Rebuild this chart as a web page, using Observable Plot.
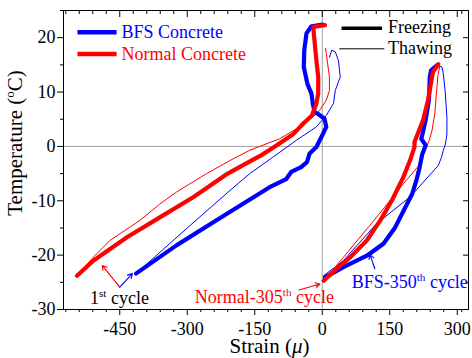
<!DOCTYPE html>
<html><head><meta charset="utf-8">
<script src="https://cdn.jsdelivr.net/npm/d3@7"></script>
<script src="https://cdn.jsdelivr.net/npm/@observablehq/plot@0.6"></script>
<style>
html,body{margin:0;padding:0;background:#fff;}
#chart{width:472px;height:358px;}
#chart svg, #chart svg text { font-family: "Liberation Serif", "Times New Roman", serif !important; }
</style></head><body><div id="chart"></div>
<script>
// ---- data: [strain (µε), temperature (°C)] ----
const bfsFirstFreezing = [[1,22.4],[-24,22.1],[-35,20.8],[-40,17.7],[-41,14.6],[-33,11.5],[-24,9.7],[-21,7.9],[-17,6.3],[-10,6.0],[5,5.1],[9,3.6],[-2,1.7],[-13,-0.1],[-28,-1.3],[-34,-2.9],[-47,-3.8],[-69,-4.7],[-80,-6.0],[-117,-7.5],[-150,-9.2],[-235,-13.6],[-324,-18.2],[-414,-23.4]];
const bfsFirstThawing = [[-414,-23.4],[-300,-15.0],[-205,-8.1],[-161,-5.0],[-110,-2.0],[-58,1.1],[-13,3.6],[9,5.7],[25,7.9],[29,10.3],[40,12.8],[36,15.8],[29,17.4],[21,17.7],[16,16.4]];
const normalFirstFreezing = [[6,22.3],[-20,22.0],[-18,20.1],[-13,15.8],[-9,12.8],[-9,9.7],[-13,7.9],[-23,5.7],[-42,4.2],[-64,2.3],[-101,0.2],[-135,-1.6],[-175,-3.4],[-210,-5.0],[-286,-9.3],[-360,-13.0],[-434,-16.7],[-508,-21.0],[-545,-23.8]];
const normalFirstThawing = [[-545,-23.8],[-509,-20.4],[-472,-17.3],[-405,-13.6],[-361,-10.6],[-324,-8.4],[-257,-5.0],[-205,-2.6],[-161,-0.7],[-95,1.4],[-50,3.6],[-21,5.4],[-6,6.6],[9,8.5],[16,10.3],[16,12.8],[12,15.2],[9,17.1],[7,18.0]];
const bfs350Freezing = [[256,15.0],[242,14.0],[239,12.8],[237,8.5],[230,5.0],[222,2.0],[220,1.4],[230,0.2],[222,-1.5],[216,-4],[210,-6],[200,-8.7],[181,-11.8],[162,-14.9],[136,-17.9],[99,-20.1],[47,-22.2],[6,-24.1]];
const bfs350Thawing = [[3,-23.8],[47,-21.0],[121,-14.2],[195,-9.3],[258,-3.5],[265,-2.0],[269,-0.7],[273,0.2],[275,1.1],[277,2.3],[277,5.4],[273,10.3],[269,13.4],[266,14.6],[258,14.9]];
const normal305Freezing = [[258,15.1],[246,13.7],[235,8.5],[224,4.8],[212,2.3],[205,0.8],[205,-0.1],[195,-2.6],[180,-5.7],[155,-9.9],[129,-13.6],[99,-17.3],[62,-20.4],[32,-22.5],[3,-24.7]];
const normal305Thawing = [[3,-24.7],[47,-20.4],[121,-13.0],[180,-6.9],[218,-3.2],[227,-1.0],[238,1.2],[244,3.0],[250,6.0],[254,10.0],[257,13.0],[261,14.7],[256,15.1]];

const xTicks = [-450,-300,-150,0,150,300];
const yTicks = [-30,-20,-10,0,10,20];
const xMinorTicks = [-570,-540,-510,-480,-420,-390,-360,-330,-270,-240,-210,-180,-120,-90,-60,-30,30,60,90,120,180,210,240,270,310];
const yMinorTicks = [-25,-15,-5,5,15,25];

const BLUE = "#0000ff", RED = "#ff0000";
const FONT = "Liberation Serif";
const fmt = d => String(d);

const thin = 1, thick = 4.2;
const lineOpts = (stroke, w) => ({x: d => d[0], y: d => d[1], stroke, strokeWidth: w, strokeLinejoin: "round", strokeLinecap: "round"});
const txt = (fill) => ({text: d => d, fill, textAnchor: "start", fontSize: 18, fontFamily: FONT});

const chart = Plot.plot({
  width: 472, height: 358,
  marginLeft: 63, marginRight: 4, marginTop: 10, marginBottom: 49,
  style: {fontFamily: FONT, fontSize: "18px", background: "#fff", color: "#000"},
  x: {domain: [-575, 325]},
  y: {domain: [-30, 25]},
  marks: [
    Plot.ruleX([0], {stroke: "#a0a0a0", strokeWidth: 1}),
    Plot.ruleY([0], {stroke: "#a0a0a0", strokeWidth: 1}),
    Plot.line(bfsFirstThawing, lineOpts(BLUE, thin)),
    Plot.line(normalFirstThawing, lineOpts(RED, thin)),
    Plot.line(bfs350Thawing, lineOpts(BLUE, thin)),
    Plot.line(normal305Thawing, lineOpts(RED, thin)),
    Plot.line(bfsFirstFreezing, lineOpts(BLUE, thick)),
    Plot.line(bfs350Freezing, lineOpts(BLUE, thick)),
    Plot.line(normalFirstFreezing, lineOpts(RED, thick)),
    Plot.line(normal305Freezing, lineOpts(RED, thick)),
    // legends
    Plot.link([{x1: -544, x2: -457, y: 21.0}], {x1: "x1", x2: "x2", y1: "y", y2: "y", stroke: BLUE, strokeWidth: 4.5}),
    Plot.link([{x1: -544, x2: -457, y: 17.0}], {x1: "x1", x2: "x2", y1: "y", y2: "y", stroke: RED, strokeWidth: 4.5}),
    Plot.text(["BFS Concrete"], {x: -446, y: 21.0, ...txt(BLUE)}),
    Plot.text(["Normal Concrete"], {x: -446, y: 17.0, ...txt(RED)}),
    Plot.link([{x1: 43, x2: 133, y: 21.75}], {x1: "x1", x2: "x2", y1: "y", y2: "y", stroke: "#000", strokeWidth: 3.5}),
    Plot.link([{x1: 38, x2: 138, y: 17.95}], {x1: "x1", x2: "x2", y1: "y", y2: "y", stroke: "#000", strokeWidth: 1}),
    Plot.text(["Freezing"], {x: 146, y: 22.0, ...txt("#000")}),
    Plot.text(["Thawing"], {x: 146, y: 18.05, ...txt("#000")}),
    // arrows
    Plot.arrow([{x1: -450, y1: -25.9, x2: -489, y2: -21.9}], {x1: "x1", y1: "y1", x2: "x2", y2: "y2", stroke: RED, strokeWidth: 1.1, headLength: 7}),
    Plot.arrow([{x1: -450, y1: -25.9, x2: -422, y2: -23.4}], {x1: "x1", y1: "y1", x2: "x2", y2: "y2", stroke: BLUE, strokeWidth: 1.1, headLength: 7}),
    Plot.arrow([{x1: -52, y1: -26.4, x2: -5, y2: -25.3}], {x1: "x1", y1: "y1", x2: "x2", y2: "y2", stroke: RED, strokeWidth: 1.1, headLength: 7}),
    Plot.arrow([{x1: 117, y1: -22.5, x2: 106, y2: -19.9}], {x1: "x1", y1: "y1", x2: "x2", y2: "y2", stroke: BLUE, strokeWidth: 1.1, headLength: 7}),
    // axes
    Plot.frame({stroke: "#000", strokeWidth: 1}),
    Plot.axisX({ticks: xTicks, anchor: "bottom", tickSize: 6, tickPadding: 7, tickFormat: fmt, fontSize: 18, fontFamily: FONT, label: null}),
    Plot.axisX({ticks: xMinorTicks, anchor: "bottom", tickSize: 3, fill: "none", label: null}),
    Plot.axisX({ticks: xTicks, anchor: "top", tickSize: -6, fill: "none", label: null}),
    Plot.axisX({ticks: xMinorTicks, anchor: "top", tickSize: -3, fill: "none", label: null}),
    Plot.axisY({ticks: yTicks, anchor: "left", tickSize: 6, tickPadding: 2, tickFormat: fmt, fontSize: 18, fontFamily: FONT, label: null}),
    Plot.axisY({ticks: yMinorTicks, anchor: "left", tickSize: 3, fill: "none", label: null}),
    Plot.axisY({ticks: yTicks, anchor: "right", tickSize: -6, fill: "none", label: null}),
    Plot.axisY({ticks: yMinorTicks, anchor: "right", tickSize: -3, fill: "none", label: null})
  ]
});
document.getElementById("chart").appendChild(chart);

// rich texts with superscripts
const svg = d3.select(chart);
const sx = chart.scale("x"), sy = chart.scale("y");
function rich(px, py, parts, {fill = "#000", size = 18, anchor = "start", rotate = 0} = {}) {
  const t = svg.append("text")
    .attr("transform", `translate(${px},${py})` + (rotate ? ` rotate(${rotate})` : ""))
    .attr("fill", fill).attr("font-size", size).attr("text-anchor", anchor)
    .attr("font-family", FONT);
  let up = false;
  const shift = size * 0.4;
  for (const p of parts) {
    const ts = t.append("tspan").text(p.t);
    if (p.sup && !up) { ts.attr("dy", -shift); up = true; }
    else if (!p.sup && up) { ts.attr("dy", shift); up = false; }
    if (p.sup) ts.attr("font-size", size * 0.62);
    if (p.italic) ts.attr("font-style", "italic");
  }
  return t;
}
rich(sx.apply(-515), sy.apply(-29.05), [{t: "1"}, {t: "st", sup: true}, {t: " cycle"}]);
rich(sx.apply(-282), sy.apply(-28.95), [{t: "Normal-305"}, {t: "th", sup: true}, {t: " cycle"}], {fill: RED});
rich(sx.apply(66.5), sy.apply(-26.2), [{t: "BFS-350"}, {t: "th", sup: true}, {t: " cycle"}], {fill: BLUE});
rich(269.5, 353, [{t: "Strain ("}, {t: "\u03bc", italic: true}, {t: ")"}], {size: 21, anchor: "middle"});
rich(22, 143, [{t: "Temperature ("}, {t: "o", sup: true}, {t: "C)"}], {size: 21, anchor: "middle", rotate: -90});
</script>
</body></html>
